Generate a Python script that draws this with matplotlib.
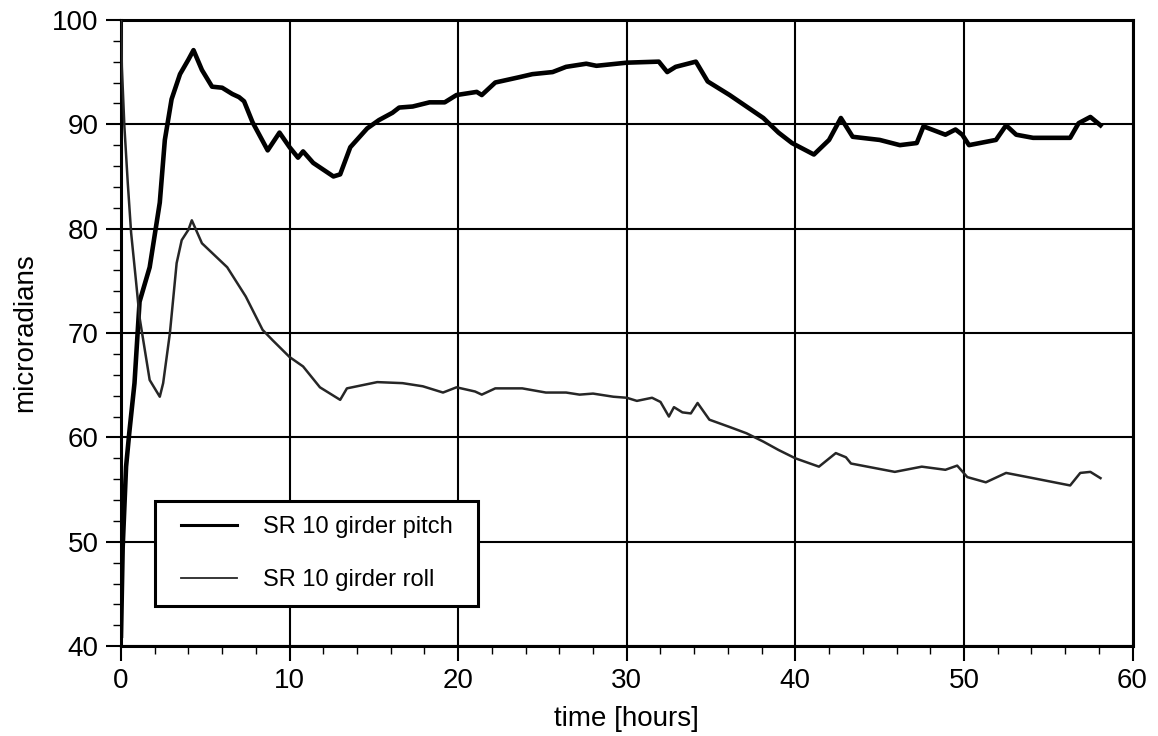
import matplotlib
matplotlib.use("Agg")
import matplotlib.pyplot as plt
from matplotlib.ticker import MultipleLocator
from matplotlib.patches import Rectangle

plt.rcParams['font.family'] = ['Liberation Sans', 'DejaVu Sans']

pitch_t = [0.0, 0.1, 0.3, 0.5, 0.8, 1.1, 1.7, 2.3, 2.6, 3.0, 3.5, 4.0, 4.3, 4.8, 5.4, 6.0,
           6.6, 7.0, 7.3, 7.8, 8.7, 9.4, 10.0, 10.5, 10.8, 11.4, 12.6, 13.0, 13.6, 14.6,
           15.3, 16.1, 16.5, 17.3, 18.3, 19.2, 19.9, 21.1, 21.4, 22.2, 23.6, 24.4, 25.6,
           26.4, 27.6, 28.2, 30.0, 31.9, 32.4, 32.9, 34.1, 34.8, 36.1, 37.1, 38.1, 39.0,
           39.8, 41.1, 42.0, 42.7, 43.4, 45.0, 46.2, 47.2, 47.6, 48.9, 49.5, 49.9, 50.3,
           51.9, 52.5, 53.1, 54.1, 56.3, 56.8, 57.5, 58.1]
pitch_v = [41.0, 49.5, 57.2, 60.6, 65.2, 73.0, 76.3, 82.5, 88.5, 92.4, 94.8, 96.2, 97.1, 95.2,
           93.6, 93.5, 92.9, 92.6, 92.2, 90.2, 87.5, 89.2, 87.8, 86.8, 87.4, 86.3, 85.0, 85.2,
           87.8, 89.6, 90.4, 91.1, 91.6, 91.7, 92.1, 92.1, 92.8, 93.1, 92.8, 94.0, 94.5, 94.8,
           95.0, 95.5, 95.8, 95.6, 95.9, 96.0, 95.0, 95.5, 96.0, 94.1, 92.8, 91.7, 90.6, 89.2,
           88.2, 87.1, 88.5, 90.6, 88.8, 88.5, 88.0, 88.2, 89.8, 89.0, 89.5, 89.0, 88.0,
           88.5, 89.9, 89.0, 88.7, 88.7, 90.1, 90.7, 89.9]

roll_t = [0.0, 0.05, 0.2, 0.4, 0.6, 0.9, 1.1, 1.7, 2.0, 2.3, 2.5, 2.9, 3.3, 3.6, 4.0, 4.2,
          4.8, 6.3, 7.4, 8.4, 9.0, 10.0, 10.8, 11.8, 13.0, 13.4, 15.2, 16.7, 17.9, 19.1,
          19.9, 21.0, 21.4, 22.2, 23.8, 25.2, 26.4, 27.2, 28.0, 29.2, 30.0, 30.6, 31.5,
          32.0, 32.5, 32.8, 33.3, 33.8, 34.2, 34.9, 36.1, 37.1, 38.1, 39.0, 40.0, 41.4,
          42.4, 43.0, 43.3, 45.9, 47.5, 48.9, 49.6, 50.2, 51.3, 52.5, 54.1, 56.3, 56.9,
          57.5, 58.1]
roll_v = [100.0, 95.5, 89.8, 84.4, 79.6, 74.8, 71.5, 65.5, 64.7, 63.9, 65.2, 70.0, 76.7,
          78.9, 79.9, 80.8, 78.6, 76.3, 73.5, 70.3, 69.3, 67.7, 66.8, 64.8, 63.6, 64.7,
          65.3, 65.2, 64.9, 64.3, 64.8, 64.4, 64.1, 64.7, 64.7, 64.3, 64.3, 64.1, 64.2,
          63.9, 63.8, 63.5, 63.8, 63.4, 62.0, 62.9, 62.4, 62.3, 63.3, 61.7, 61.0, 60.4,
          59.6, 58.8, 58.0, 57.2, 58.5, 58.1, 57.5, 56.7, 57.2, 56.9, 57.3, 56.2, 55.7,
          56.6, 56.1, 55.4, 56.6, 56.7, 56.1]

fig = plt.figure(figsize=(11.58, 7.36), dpi=100)
ax = fig.add_axes([0.1045, 0.122, 0.8735, 0.851])

ax.plot(pitch_t, pitch_v, color='black', lw=3.3, label='SR 10 girder pitch', zorder=3)
ax.plot(roll_t, roll_v, color='#262626', lw=1.8, label='SR 10 girder roll', zorder=3)

ax.set_xlim(0, 60)
ax.set_ylim(40, 100)
ax.xaxis.set_major_locator(MultipleLocator(10))
ax.xaxis.set_minor_locator(MultipleLocator(2))
ax.yaxis.set_major_locator(MultipleLocator(10))
ax.yaxis.set_minor_locator(MultipleLocator(2))
ax.grid(True, which='major', color='black', lw=1.5)
ax.tick_params(which='major', direction='out', length=11, width=1.5, labelsize=20,
               colors='black')
ax.tick_params(axis='y', which='major', pad=5)
ax.tick_params(axis='x', which='major', pad=5)
ax.tick_params(which='minor', direction='out', length=5.5, width=1.0)
for s in ax.spines.values():
    s.set_linewidth(2.2)
    s.set_color('black')

ax.set_xlabel('time [hours]', fontsize=20, labelpad=8)
ax.set_ylabel('microradians', fontsize=20, labelpad=10)

leg = ax.legend(loc='lower left', bbox_to_anchor=(0.0445, 0.064), fontsize=17,
                frameon=False, borderpad=0.64, labelspacing=1.3, handlelength=2.35,
                handletextpad=1.1, borderaxespad=0)
leg.get_lines()[0].set_linewidth(2.2)
leg.get_lines()[1].set_linewidth(1.3)
leg.set_zorder(6)

fig.canvas.draw()
bb = leg.get_window_extent(fig.canvas.get_renderer())
inv = fig.transFigure.inverted()
extra = 11
(x0, y0) = inv.transform((bb.x0 - extra, bb.y0))
(x1, y1) = inv.transform((bb.x1 + extra, bb.y1))
frame = Rectangle((x0, y0), x1 - x0, y1 - y0, transform=fig.transFigure,
                  facecolor='white', edgecolor='black', lw=2.2, zorder=5, clip_on=False)
ax.add_artist(frame)

fig.savefig('out.png', dpi=100, facecolor='white')
